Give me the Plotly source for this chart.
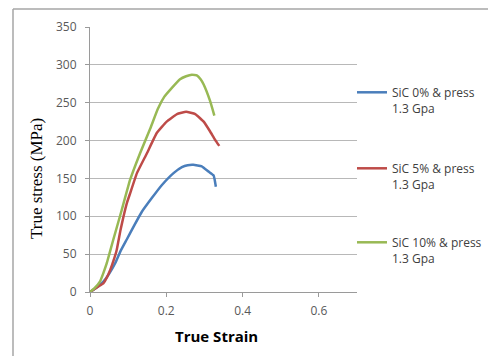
import plotly.graph_objects as go

# True stress-strain curves for three SiC contents, all pressed at 1.3 GPa
strain_0 = [0.0, 0.012, 0.025, 0.035, 0.050, 0.066, 0.080, 0.096, 0.115, 0.136, 0.162, 0.188, 0.219, 0.241, 0.256, 0.271, 0.293, 0.311, 0.324, 0.327, 0.330]
stress_0 = [0, 4, 9, 13.7, 24, 38, 54, 69, 87, 106, 124, 141, 157, 165, 167.5, 168, 166, 159, 154, 148, 139]

strain_5 = [0.0, 0.015, 0.027, 0.035, 0.045, 0.053, 0.062, 0.070, 0.080, 0.088, 0.097, 0.105, 0.123, 0.149, 0.175, 0.201, 0.228, 0.252, 0.276, 0.298, 0.315, 0.328, 0.339]
stress_5 = [0, 5, 9, 11.5, 20, 29, 42, 55.5, 82, 100, 118, 130, 157, 183, 210, 225, 235, 238, 235, 225, 212, 201, 193]

strain_10 = [0.0, 0.012, 0.026, 0.035, 0.044, 0.061, 0.083, 0.105, 0.131, 0.158, 0.178, 0.195, 0.210, 0.236, 0.252, 0.267, 0.280, 0.290, 0.298, 0.315, 0.326]
stress_10 = [0, 5, 13.7, 25, 38, 69, 108, 148, 183, 216, 242, 258, 267, 281, 285, 287, 286, 281, 274, 252, 233]

labels = ["SiC 0% & press<br>1.3 Gpa", "SiC 5% & press<br>1.3 Gpa", "SiC 10% & press<br>1.3 Gpa"]
colors = ["#4a7ebb", "#be4b48", "#98b954"]

x_ticks = [0, 0.2, 0.4, 0.6]
y_ticks = [0, 50, 100, 150, 200, 250, 300, 350]

W, H = 488, 356
L, R, T, B = 90, 131, 27, 64
pw, ph = W - L - R, H - T - B

def px_x(p):
    return (p - L) / pw

def px_y(p):
    return (H - B - p) / ph

fig = go.Figure()
series = [(strain_0, stress_0), (strain_5, stress_5), (strain_10, stress_10)]
legend_ids = ["legend", "legend2", "legend3"]
for (xs, ys), name, c, lg in zip(series, labels, colors, legend_ids):
    fig.add_trace(go.Scatter(x=xs, y=ys, mode="lines", name=name, legend=lg,
                             line=dict(color=c, width=2.5, shape="spline", smoothing=0.3)))

tick_font = dict(family="Open Sans, Liberation Sans, sans-serif", size=12, color="#595959")
legend_font = dict(family="Open Sans, Liberation Sans, sans-serif", size=12, color="#404040")

def legend_at(top_px):
    return dict(x=px_x(352), xanchor="left", y=px_y(top_px), yanchor="top",
                font=legend_font, bgcolor="rgba(0,0,0,0)", borderwidth=0,
                valign="top", itemwidth=30, tracegroupgap=0)

fig.update_layout(
    width=W, height=H,
    margin=dict(l=L, r=R, t=T, b=B, pad=0, autoexpand=False),
    paper_bgcolor="white", plot_bgcolor="white",
    showlegend=True,
    legend=legend_at(78),
    legend2=legend_at(154),
    legend3=legend_at(228),
    xaxis=dict(range=[0, 0.7], tickvals=x_ticks, ticktext=["0", "0.2", "0.4", "0.6"],
               showgrid=False, zeroline=False, showline=True, linecolor="#9a9a9a", linewidth=1,
               ticks="outside", ticklen=4, tickcolor="#9a9a9a", tickfont=tick_font, ticklabelstandoff=4),
    yaxis=dict(range=[0, 350], tickvals=y_ticks, showgrid=True, gridcolor="#b8b8b8", gridwidth=1,
               zeroline=False, showline=True, linecolor="#9a9a9a", linewidth=1,
               ticks="outside", ticklen=4, tickcolor="#9a9a9a", tickfont=tick_font, ticklabelstandoff=6),
    annotations=[
        dict(text="True stress (MPa)", xref="paper", yref="paper", x=px_x(36), y=px_y(179),
             xanchor="center", yanchor="middle", textangle=-90, showarrow=False,
             font=dict(family="Liberation Serif, Times New Roman, serif", size=17, color="#000000")),
        dict(text="<b>True Strain</b>", xref="paper", yref="paper", x=px_x(216), y=px_y(336),
             xanchor="center", yanchor="middle", showarrow=False,
             font=dict(family="Open Sans, Liberation Sans, sans-serif", size=15, color="#000000")),
    ],
    shapes=[
        dict(type="line", xref="paper", yref="paper", x0=px_x(13), x1=px_x(W + 5),
             y0=px_y(9), y1=px_y(9), line=dict(color="#a6a6a6", width=1.5)),
        dict(type="line", xref="paper", yref="paper", x0=px_x(13), x1=px_x(13),
             y0=px_y(9), y1=px_y(H + 5), line=dict(color="#a6a6a6", width=1.5)),
    ],
)

fig.write_html("out.html")
